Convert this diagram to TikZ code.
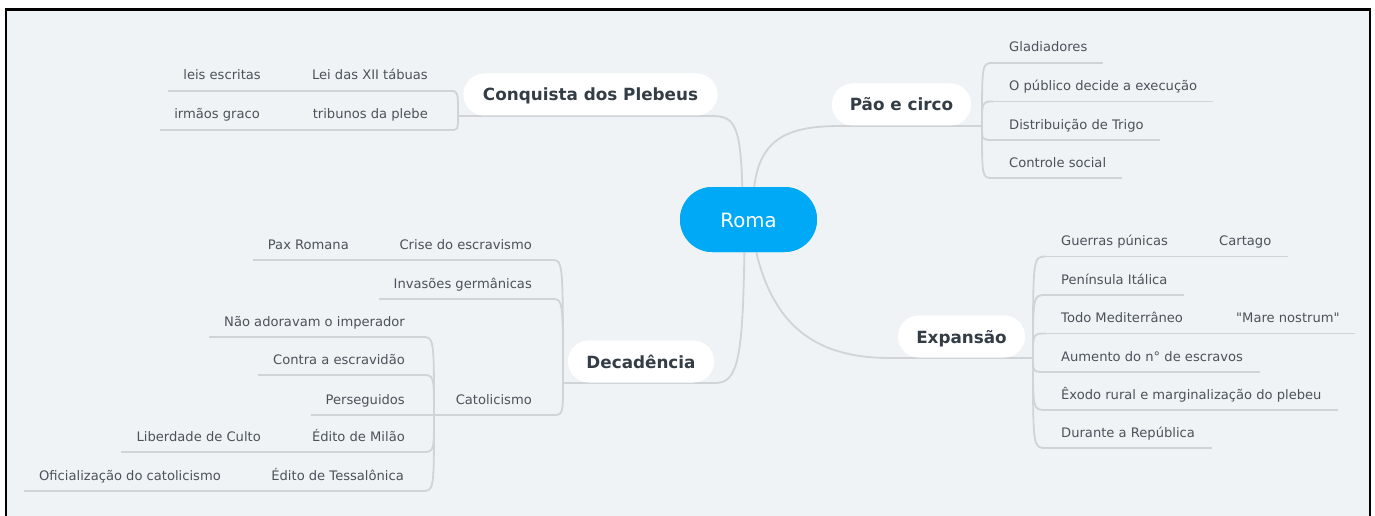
\documentclass[tikz,border=0pt]{standalone}
\usepackage{fontspec}
\setmainfont{DejaVu Sans}[Ligatures=TeXOff]
\usetikzlibrary{calc}
\definecolor{bg}{RGB}{239,243,246}
\definecolor{lncol}{RGB}{208,212,215}
\definecolor{tx}{RGB}{75,82,89}
\definecolor{tt}{RGB}{52,61,69}
\definecolor{rb}{RGB}{0,169,245}
\tikzset{
  lnk/.style={draw=lncol, line width=1.8pt},
  txt/.style={text=tx, font=\fontsize{13.1}{15}\selectfont, inner sep=0pt},
  topic/.style={fill=white, rounded corners=21pt, text=tt, font=\fontsize{16.8}{20}\selectfont\bfseries,
    inner sep=0pt, text height=13pt, text depth=0pt, minimum height=42pt},
  central/.style={fill=rb, rounded corners=32.5pt, text=white, font=\fontsize{19.7}{23}\selectfont,
    inner sep=0pt, text height=15pt, text depth=0pt, minimum height=65pt, minimum width=137pt},
  le/.style={txt, anchor=base east},
  lw/.style={txt, anchor=base west}
}
\begin{document}
\begin{tikzpicture}[x=1pt,y=-1pt]
\useasboundingbox (0,0) rectangle (1375,516);
\draw[line width=2.2pt, fill=bg] (6,9.5) rectangle (1370,540);

% nodes (boxes), placed first for naming
\node[central] (roma) at (748.5,219.5) {Roma};
\node[topic, minimum width=254pt] (cq) at (590.5,94.5) {Conquista dos Plebeus};
\node[topic, minimum width=139pt] (pc) at (901.5,104.5) {Pão e circo};
\node[topic, minimum width=146pt] (dc) at (641,361.5) {Decadência};
\node[topic, minimum width=127pt] (ex) at (961.5,336.5) {Expansão};

% junctions
\coordinate (cqj) at (458,116);
\coordinate (pcj) at (982,126);
\coordinate (dcj) at (563,383);
\coordinate (catj) at (434,415);
\coordinate (exj) at (1033,358);

% ---------- connectors ----------
\path[lnk] ($(roma.north)+(-6,8)$) .. controls (741,125) and (735,116) .. (712,116) -- (cqj);
\path[lnk] ($(roma.north)+(5,8)$) .. controls (757,140) and (785,126) .. (840,126) -- (pcj);
\path[lnk] ($(roma.south)+(-4,-8)$) .. controls (743,360) and (738,383) .. (715,383) -- (dcj);
\path[lnk] ($(roma.south)+(6,-8)$) .. controls (772,330) and (820,358) .. (890,358) -- (exj);

% Conquista children
\coordinate (lei-e) at (450,91);   \coordinate (lei-w) at (168,91);
\coordinate (trib-e) at (450,130); \coordinate (trib-w) at (160,130);
\path[lnk] (lei-w) -- (lei-e);
\path[lnk] (trib-w) -- (trib-e);
\path[lnk] (cqj) .. controls (cqj |- lei-e) .. (lei-e);
\path[lnk] (cqj) .. controls (cqj |- trib-e) .. (trib-e);

% Pão e circo children
\coordinate (glad-w) at (993,63);    \coordinate (glad-e) at (1103,63);
\coordinate (pub-w) at (993,101.5);  \coordinate (pub-e) at (1213,101.5);
\coordinate (trg-w) at (993,140);    \coordinate (trg-e) at (1160,140);
\coordinate (ctl-w) at (993,178);    \coordinate (ctl-e) at (1122,178);
\foreach \n in {glad,pub,trg,ctl}{
  \path[lnk] (\n-w) -- (\n-e);
  \path[lnk] (pcj) .. controls (pcj |- \n-w) .. (\n-w);
}

% Decadência children
\coordinate (cri-e) at (552,260);  \coordinate (cri-w) at (253,260);
\coordinate (inv-e) at (552,299);  \coordinate (inv-w) at (379,299);
\coordinate (cat-e) at (552,415);
\path[lnk] (cri-w) -- (cri-e);
\path[lnk] (inv-w) -- (inv-e);
\path[lnk] (catj) -- (cat-e);
\foreach \n in {cri,inv,cat}{
  \path[lnk] (dcj) .. controls (dcj |- \n-e) .. (\n-e);
}

% Catolicismo children
\coordinate (nao-e) at (422,337);  \coordinate (nao-w) at (209,337);
\coordinate (con-e) at (422,375);  \coordinate (con-w) at (258,375);
\coordinate (per-e) at (422,415);  \coordinate (per-w) at (311,415);
\coordinate (mil-e) at (422,452);  \coordinate (mil-w) at (121,452);
\coordinate (tes-e) at (422,491);  \coordinate (tes-w) at (24,491);
\foreach \n in {nao,con,per,mil,tes}{
  \path[lnk] (\n-w) -- (\n-e);
  \path[lnk] (catj) .. controls (catj |- \n-e) .. (\n-e);
}

% Expansão children
\coordinate (gue-w) at (1046,256.5); \coordinate (gue-e) at (1288,256.5);
\coordinate (pen-w) at (1046,295);   \coordinate (pen-e) at (1184,295);
\coordinate (tod-w) at (1046,333.5); \coordinate (tod-e) at (1355,333.5);
\coordinate (aum-w) at (1046,372);   \coordinate (aum-e) at (1260,372);
\coordinate (exo-w) at (1046,410);   \coordinate (exo-e) at (1338,410);
\coordinate (dur-w) at (1046,448);   \coordinate (dur-e) at (1212,448);
\foreach \n in {gue,pen,tod,aum,exo,dur}{
  \path[lnk] (\n-w) -- (\n-e);
  \path[lnk] (exj) .. controls (exj |- \n-w) .. (\n-w);
}

% boxes again on top of the connectors
\node[central] at (roma) {Roma};
\node[topic, minimum width=254pt] at (cq) {Conquista dos Plebeus};
\node[topic, minimum width=139pt] at (pc) {Pão e circo};
\node[topic, minimum width=146pt] at (dc) {Decadência};
\node[topic, minimum width=127pt] at (ex) {Expansão};

% ---------- texts ----------
\node[le] (lei) at (428,80) {Lei das XII tábuas};
\node[le] (leis) at (261,80) {leis escritas};
\node[le] (trib) at (428,119) {tribunos da plebe};
\node[le] (irm) at (260,119) {irmãos graco};

\node[lw] (glad) at (1009,52) {Gladiadores};
\node[lw] (pub) at (1009,90.5) {O público decide a execução};
\node[lw] (trg) at (1009,129) {Distribuição de Trigo};
\node[lw] (ctl) at (1009,167) {Controle social};

\node[le] (cri) at (532,249) {Crise do escravismo};
\node[le] (pax) at (349,249) {Pax Romana};
\node[le] (inv) at (532,288) {Invasões germânicas};
\node[le] (cat) at (532,404) {Catolicismo};

\node[le] (nao) at (405,326) {Não adoravam o imperador};
\node[le] (con) at (405,364) {Contra a escravidão};
\node[le] (per) at (405,404) {Perseguidos};
\node[le] (mil) at (405,441) {Édito de Milão};
\node[le] (lib) at (261,441) {Liberdade de Culto};
\node[le] (tes) at (404,480) {Édito de Tessalônica};
\node[le] (ofi) at (221,480) {Oficialização do catolicismo};

\node[lw] (gue) at (1061,245.5) {Guerras púnicas};
\node[lw] (car) at (1219,245.5) {Cartago};
\node[lw] (pen) at (1061,284) {Península Itálica};
\node[lw] (tod) at (1061,322.5) {Todo Mediterrâneo};
\node[lw] (mar) at (1236,322.5) {"Mare nostrum"};
\node[lw] (aum) at (1061,361) {Aumento do n° de escravos};
\node[lw] (exo) at (1061,399) {Êxodo rural e marginalização do plebeu};
\node[lw] (dur) at (1061,437) {Durante a República};
\end{tikzpicture}
\end{document}
